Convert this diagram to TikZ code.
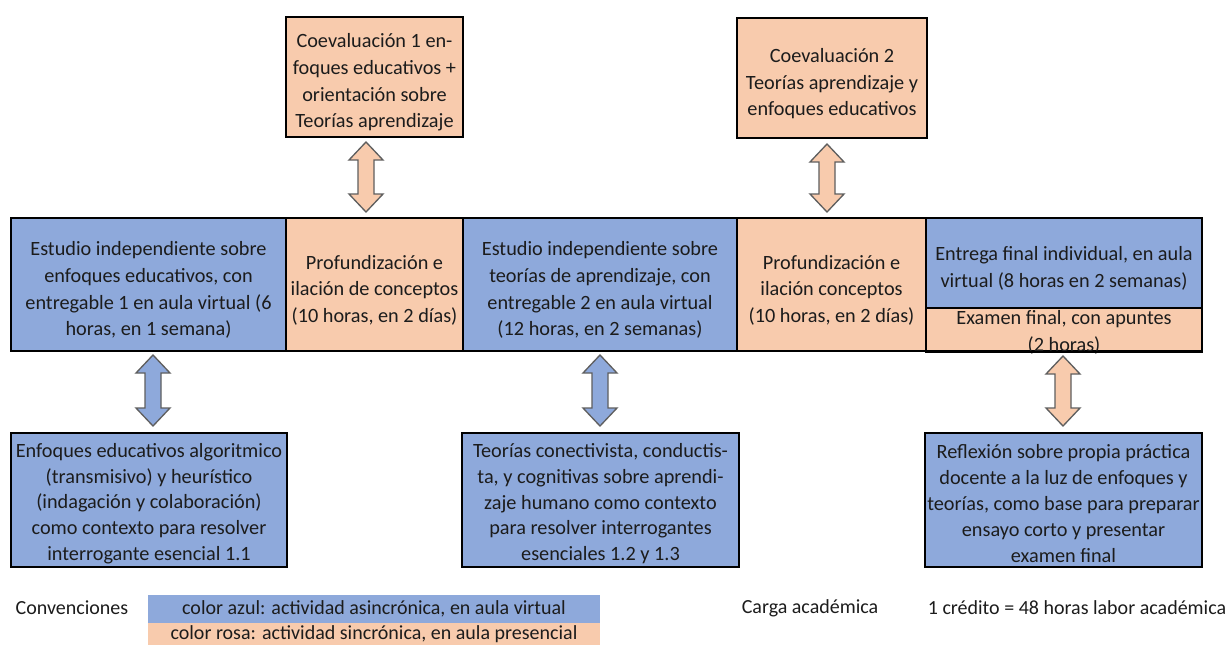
\documentclass[tikz,border=0pt]{standalone}
\usepackage{fontspec}
\setmainfont{Carlito}
\usetikzlibrary{calc}
\definecolor{blu}{RGB}{142,169,219}
\definecolor{pnk}{RGB}{248,203,173}
\definecolor{txt}{RGB}{28,28,28}
\definecolor{agray}{RGB}{95,95,95}
\newcommand\st{\rule{0pt}{19pt}}
\newcommand\stb{\rule{0pt}{16pt}}
\tikzset{
  sz/.style 2 args={minimum width=#1*0.75pt, minimum height=#2*0.75pt},
  box/.style={draw=black, line width=1.5pt, align=center, inner sep=0pt, text=txt,
    font=\fontsize{15.2pt}{20pt}\selectfont},
  boxb/.style={box, font=\fontsize{15.2pt}{19.4pt}\selectfont},
  plain/.style={align=center, inner sep=0pt, text=txt, font=\fontsize{15.2pt}{20pt}\selectfont},
  legend/.style={draw=none, align=center, inner sep=0pt, text=txt, font=\fontsize{15pt}{18pt}\selectfont},
  arrowline/.style={draw=agray, line width=1pt, line join=miter},
}
\newcommand\blockarrow[3]{%
  \draw[arrowline, fill=#3] let \p1=(#1), \p2=(#2) in
    (\x1,\y1) -- (\x1+12.75pt,\y1-13.5pt) -- (\x1+6pt,\y1-13.5pt) --
    (\x1+6pt,\y2+13.5pt) -- (\x1+12.75pt,\y2+13.5pt) -- (\x1,\y2) --
    (\x1-12.75pt,\y2+13.5pt) -- (\x1-6pt,\y2+13.5pt) --
    (\x1-6pt,\y1-13.5pt) -- (\x1-12.75pt,\y1-13.5pt) -- cycle;}
\begin{document}
\begin{tikzpicture}[x=0.75pt,y=-0.75pt]
\useasboundingbox[fill=white] (0,0) rectangle (1227,644);

% top boxes
\node[box, fill=pnk, sz={177}{120}] (coev1) at (374.5,77)
  {\st Coevaluación 1 en-\\foques educativos +\\orientación sobre\\Teorías aprendizaje};
\node[box, fill=pnk, sz={190}{120}] (coev2) at (832,78)
  {\st Coevaluación 2\\Teorías aprendizaje y\\enfoques educativos};

% middle row
\node[box, fill=blu, sz={275}{133}] (m1) at (148.5,284.5)
  {\st Estudio independiente sobre\\enfoques educativos, con\\entregable 1 en aula virtual (6\\horas, en 1 semana)};
\node[box, fill=pnk, sz={177}{133}] (m2) at (374.5,284.5)
  {\st Profundización e\\ilación de conceptos\\(10 horas, en 2 días)};
\node[box, fill=blu, sz={274}{133}] (m3) at (600,284.5)
  {\st Estudio independiente sobre\\teorías de aprendizaje, con\\entregable 2 en aula virtual\\(12 horas, en 2 semanas)};
\node[box, fill=pnk, sz={189}{133}] (m4) at (831.5,284.5)
  {\st Profundización e\\ilación conceptos\\(10 horas, en 2 días)};
\node[box, fill=blu, sz={276}{90}] (m5a) at (1064,263)
  {\st Entrega final individual, en aula\\virtual (8 horas en 2 semanas)};
\node[box, fill=pnk, sz={276}{43}] (m5b) at (1064,329.5) {};
\node[plain, anchor=north] (m5t) at ($(m5b.north)+(0,3.5)$)
  {Examen final, con apuntes\\(2 horas)};
\draw[line width=1.5pt] (m5b.south west) -- (m5b.south east);

% bottom boxes
\node[boxb, fill=blu, sz={276}{134}] (ba) at (149,500)
  {\stb Enfoques educativos algoritmico\\(transmisivo) y heurístico\\(indagación y colaboración)\\como contexto para resolver\\interrogante esencial 1.1};
\node[boxb, fill=blu, sz={277}{134}] (bb) at (600.5,500)
  {\stb Teorías conectivista, conductis-\\ta, y cognitivas sobre aprendi-\\zaje humano como contexto\\para resolver interrogantes\\esenciales 1.2 y 1.3};
\node[boxb, fill=blu, sz={277}{134}] (bc) at (1063.5,500)
  {\stb Reflexión sobre propia práctica\\docente a la luz de enfoques y\\teorías, como base para preparar\\ensayo corto y presentar\\examen final};

% block arrows
\blockarrow{$(coev1.south)+(-8.5,4)$}{$(m2.north)+(-8.5,-5)$}{pnk}
\blockarrow{$(coev2.south)+(-5,5)$}{$(m4.north)+(-4.5,-5)$}{pnk}
\blockarrow{$(m1.south)+(4.5,3)$}{$(ba.north)+(4,-6)$}{blu}
\blockarrow{$(m3.south)+(0,3)$}{$(bb.north)+(-0.5,-6)$}{blu}
\blockarrow{$(m5b.south)+(-1,4)$}{$(bc.north)+(-0.5,-6)$}{pnk}

% legend
\node[legend] (conv) at (72,608) {Convenciones};
\node[legend, fill=blu, sz={452}{28}] (lazul) at (374,608.5)
  {color azul: actividad asincrónica, en aula virtual};
\node[legend, fill=pnk, sz={452}{22}, anchor=north] (lrosa) at (lazul.south)
  {\raisebox{-2pt}{color rosa: actividad sincrónica, en aula presencial}};
\node[legend] (carga) at (810,608) {Carga académica};
\node[legend] (cred) at (1077,608) {1 crédito = 48 horas labor académica};
\end{tikzpicture}
\end{document}
